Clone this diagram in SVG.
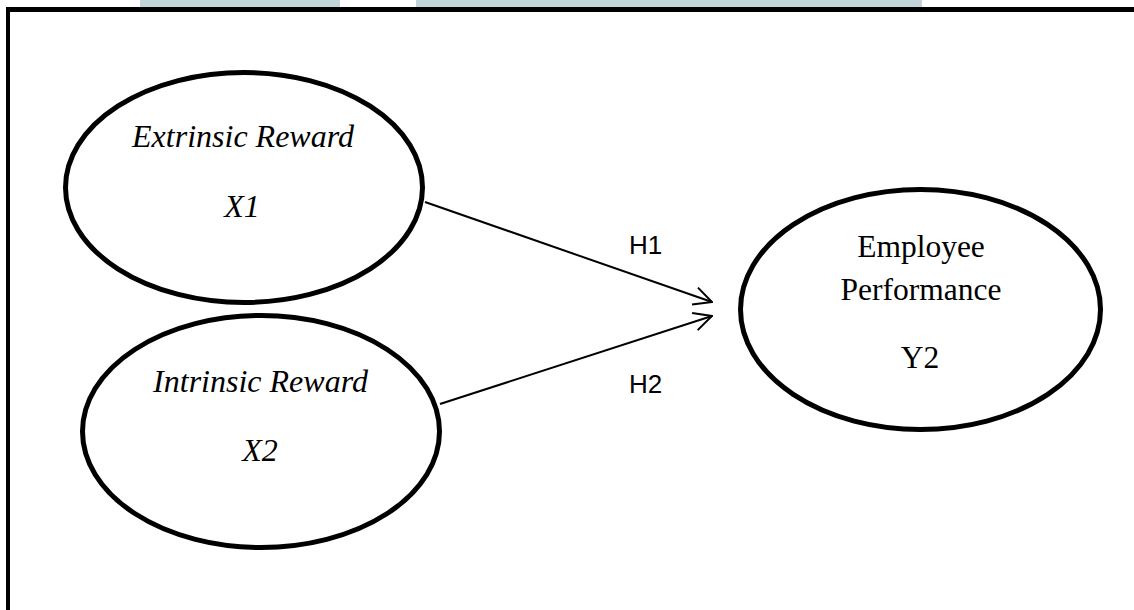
<svg xmlns="http://www.w3.org/2000/svg" width="1134" height="610" viewBox="0 0 1134 610">
  <defs>
    <style>
      .node ellipse { fill: #ffffff; stroke: #000000; stroke-width: 5; }
      .lbl-it { font-family: "Liberation Serif", serif; font-style: italic; font-size: 32px; fill: #000; text-anchor: middle; }
      .lbl { font-family: "Liberation Serif", serif; font-size: 31.5px; fill: #000; text-anchor: middle; }
      .edge { stroke: #000; stroke-width: 2; fill: none; }
      .elbl { font-family: "Liberation Sans", Arial, sans-serif; font-size: 26px; fill: #000; }
    </style>
    <marker id="open" viewBox="0 0 20 20" refX="19" refY="10" markerWidth="20" markerHeight="20" markerUnits="userSpaceOnUse" orient="auto">
      <path d="M1,1 L19,10 L1,19" fill="none" stroke="#000" stroke-width="2"/>
    </marker>
  </defs>
  <rect x="0" y="0" width="1134" height="610" fill="#ffffff"/>
  <rect x="140" y="0" width="200" height="7" fill="#c3d3da"/>
  <rect x="416" y="0" width="506" height="7" fill="#c3d3da"/>
  <line x1="6" y1="9.5" x2="1134" y2="9.5" stroke="#000" stroke-width="5"/>
  <line x1="8" y1="7" x2="8" y2="610" stroke="#000" stroke-width="4"/>

  <g id="connectors">
    <line class="edge" x1="425" y1="202" x2="712" y2="302" marker-end="url(#open)"/>
    <line class="edge" x1="440" y1="404" x2="712" y2="316" marker-end="url(#open)"/>
    <text class="elbl" x="629" y="254">H1</text>
    <text class="elbl" x="629" y="393">H2</text>
  </g>

  <g id="extrinsic" class="node">
    <ellipse cx="244" cy="187.5" rx="178.5" ry="115"/>
    <text class="lbl-it" x="243" y="147">Extrinsic Reward</text>
    <text class="lbl-it" x="242" y="217">X1</text>
  </g>

  <g id="intrinsic" class="node">
    <ellipse cx="261" cy="431.5" rx="178.5" ry="116"/>
    <text class="lbl-it" x="260.5" y="392">Intrinsic Reward</text>
    <text class="lbl-it" x="260" y="461">X2</text>
  </g>

  <g id="employee" class="node">
    <ellipse cx="920.5" cy="309.5" rx="180" ry="120"/>
    <text class="lbl" x="921" y="257">Employee</text>
    <text class="lbl" x="921" y="300">Performance</text>
    <text class="lbl" x="920" y="368">Y2</text>
  </g>
</svg>
